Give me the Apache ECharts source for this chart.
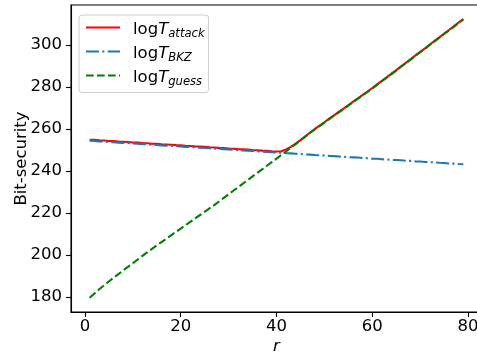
<!DOCTYPE html>
<html>
<head>
<meta charset="utf-8">
<script src="https://cdn.jsdelivr.net/npm/echarts@6/dist/echarts.min.js"></script>
<style>
  html, body { margin: 0; padding: 0; background: #fff; }
  #main { width: 477px; height: 353px; }
</style>
</head>
<body>
<div id="main"></div>
<script>
// r = 1 .. 79
var rValues = [];
for (var i = 1; i <= 79; i++) rValues.push(i);

var seriesNames = ['attack', 'BKZ', 'guess'];

var attackData = [
	254.9, 254.8, 254.6, 254.5, 254.3, 254.2, 254.0, 253.9, 253.8, 253.6,
	253.5, 253.3, 253.2, 253.0, 252.9, 252.7, 252.6, 252.5, 252.3, 252.2,
	252.0, 251.9, 251.7, 251.6, 251.5, 251.3, 251.2, 251.0, 250.9, 250.7,
	250.6, 250.4, 250.3, 250.2, 250.0, 249.9, 249.7, 249.6, 249.4, 249.3,
	249.4, 250.3, 251.5, 253.0, 254.7, 256.5, 258.3, 260.0, 261.6, 263.2,
	264.9, 266.5, 268.1, 269.7, 271.3, 273.0, 274.6, 276.2, 277.8, 279.5,
	281.2, 282.9, 284.6, 286.3, 288.0, 289.8, 291.5, 293.2, 295.0, 296.7,
	298.4, 300.2, 301.9, 303.6, 305.4, 307.1, 308.8, 310.6, 312.3
];

var bkzData = [
	254.4, 254.3, 254.1, 254.0, 253.8, 253.7, 253.5, 253.4, 253.3, 253.1,
	253.0, 252.8, 252.7, 252.5, 252.4, 252.2, 252.1, 252.0, 251.8, 251.7,
	251.5, 251.4, 251.2, 251.1, 251.0, 250.8, 250.7, 250.5, 250.4, 250.2,
	250.1, 249.9, 249.8, 249.7, 249.5, 249.4, 249.2, 249.1, 248.9, 248.8,
	248.7, 248.5, 248.4, 248.2, 248.1, 247.9, 247.8, 247.6, 247.5, 247.4,
	247.2, 247.1, 246.9, 246.8, 246.6, 246.5, 246.4, 246.2, 246.1, 245.9,
	245.8, 245.6, 245.5, 245.3, 245.2, 245.1, 244.9, 244.8, 244.6, 244.5,
	244.3, 244.2, 244.1, 243.9, 243.8, 243.6, 243.5, 243.3, 243.2
];

var guessData = [
	179.7, 181.7, 183.7, 185.6, 187.4, 189.2, 190.9, 192.7, 194.4, 196.1,
	197.8, 199.6, 201.3, 202.9, 204.6, 206.2, 207.8, 209.4, 211.0, 212.6,
	214.2, 215.8, 217.4, 219.0, 220.6, 222.2, 223.8, 225.5, 227.2, 228.9,
	230.6, 232.3, 234.0, 235.7, 237.4, 239.1, 240.8, 242.5, 244.2, 245.9,
	247.6, 249.3, 251.1, 252.8, 254.6, 256.3, 258.1, 259.8, 261.4, 263.0,
	264.7, 266.3, 267.9, 269.5, 271.1, 272.8, 274.4, 276.0, 277.6, 279.3,
	281.0, 282.7, 284.4, 286.1, 287.8, 289.6, 291.3, 293.0, 294.8, 296.5,
	298.2, 300.0, 301.7, 303.4, 305.2, 306.9, 308.6, 310.4, 312.1
];

var xTicks = [0, 20, 40, 60, 80];
var yTicks = [180, 200, 220, 240, 260, 280, 300];

var FONT = 'DejaVu Sans';
var FS = 16.5;

function pairs(ys) {
	var out = [];
	for (var i = 0; i < ys.length; i++) out.push([rValues[i], ys[i]]);
	return out;
}

var chart = echarts.init(document.getElementById('main'), null, {renderer: 'canvas'});

var option = {
	animation: false,
	backgroundColor: '#ffffff',
	grid: {
		left: 71,
		right: -5,
		top: 5,
		bottom: 41,
		outerBoundsMode: 'none',
		containLabel: false,
		show: true,
		borderColor: '#000',
		borderWidth: 1.1,
		backgroundColor: 'transparent'
	},
	legend: {
		orient: 'vertical',
		left: 79,
		top: 15,
		padding: [6, 4, 5, 6],
		itemWidth: 34,
		itemHeight: 14,
		itemGap: 5.5,
		backgroundColor: 'rgba(255,255,255,0.8)',
		borderColor: '#cccccc',
		borderWidth: 1,
		borderRadius: 3,
		itemStyle: {opacity: 0},
		data: seriesNames,
		formatter: function (name) {
			return '{a|log}{t|T}{s|' + name + '}';
		},
		textStyle: {
			rich: {
				a: {fontFamily: FONT, fontSize: FS, color: '#000', padding: [4, 0, 0, 8]},
				t: {fontFamily: FONT, fontSize: FS, fontStyle: 'italic', color: '#000', padding: [4, 0, 0, 0]},
				s: {fontFamily: FONT, fontSize: 11.6, fontStyle: 'italic', color: '#000', padding: [12, 0, 0, 0]}
			}
		}
	},
	xAxis: {
		type: 'value',
		min: -2.9,
		max: 82.9,
		name: 'r',
		nameLocation: 'middle',
		nameGap: 26,
		nameMoveOverlap: false,
		nameTextStyle: {fontFamily: FONT, fontSize: FS, fontStyle: 'italic', color: '#000'},
		axisLine: {show: true, onZero: false, lineStyle: {color: '#000', width: 1.1}},
		axisTick: {show: true, length: 5, customValues: xTicks, lineStyle: {color: '#000', width: 1.1}},
		axisLabel: {customValues: xTicks, margin: 6, fontFamily: FONT, fontSize: FS, color: '#000'},
		splitLine: {show: false}
	},
	yAxis: {
		type: 'value',
		min: 172.9,
		max: 319,
		name: 'Bit-security',
		nameLocation: 'middle',
		nameGap: 41,
		nameMoveOverlap: false,
		nameTextStyle: {fontFamily: FONT, fontSize: FS, color: '#000'},
		axisLine: {show: true, onZero: false, lineStyle: {color: '#000', width: 1.1}},
		axisTick: {show: true, length: 5, customValues: yTicks, lineStyle: {color: '#000', width: 1.1}},
		axisLabel: {customValues: yTicks, margin: 9, fontFamily: FONT, fontSize: FS, color: '#000'},
		splitLine: {show: false}
	},
	series: [
		{
			name: seriesNames[0],
			type: 'line',
			symbol: 'none',
			data: pairs(attackData),
			lineStyle: {color: '#ff0000', width: 2.1, type: 'solid'},
			itemStyle: {color: '#ff0000'}
		},
		{
			name: seriesNames[1],
			type: 'line',
			symbol: 'none',
			data: pairs(bkzData),
			lineStyle: {color: '#1f77b4', width: 2.1, type: [13, 3.3, 2.1, 3.3]},
			itemStyle: {color: '#1f77b4'}
		},
		{
			name: seriesNames[2],
			type: 'line',
			symbol: 'none',
			data: pairs(guessData),
			lineStyle: {color: '#008000', width: 2.1, type: [7.7, 3.3]},
			itemStyle: {color: '#008000'}
		}
	]
};

chart.setOption(option);
</script>
</body>
</html>
